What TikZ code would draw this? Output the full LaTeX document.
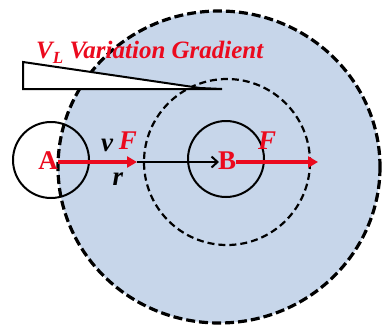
\documentclass[tikz,border=0pt]{standalone}
\usepackage{fontspec}
\setmainfont{Liberation Serif}[BoldItalicFont={Liberation Serif Bold Italic},BoldFont={Liberation Serif Bold}]
\usetikzlibrary{arrows.meta}
\definecolor{fieldblue}{RGB}{199,214,234}
\definecolor{fred}{RGB}{235,10,30}
\begin{document}
\begin{tikzpicture}[x=1pt,y=-1pt,
  lab/.style={inner sep=0pt,font=\fontsize{27}{27}\selectfont\bfseries},
  itlab/.style={inner sep=0pt,font=\fontsize{27}{27}\selectfont\bfseries\itshape},
  redarrow/.style={draw=fred,line width=3.5pt,-{Triangle[length=10pt,width=11pt]}},
  blackarrow/.style={draw=black,line width=2pt,-{Straight Barb[length=6pt,width=11pt,line width=2pt]}},
  ring/.style={draw=black,line width=2pt}]
\useasboundingbox (0,0) rectangle (382,327);
% outer field
\fill[fieldblue] (219,167) ellipse [x radius=161,y radius=156];
\draw[line width=3.2pt,dash pattern=on 9pt off 4pt] (219,167) ellipse [x radius=161,y radius=156];
% inner dashed circle
\draw[line width=2.2pt,dash pattern=on 7pt off 4pt] (227,162) circle [radius=83];
% particle circles
\draw[ring] (51,160) circle [radius=38];
\draw[ring] (226,159) circle [radius=38];
% gradient wedge
\draw[line width=2pt,fill=white,line join=miter] (23,62) -- (23,89) -- (222,89) -- (200,88) -- cycle;
\node[anchor=base west,inner sep=0pt,text=fred,font=\fontsize{25}{25}\selectfont\bfseries\itshape] (title) at (36,58) {V\raisebox{-5pt}{\fontsize{17}{17}\selectfont L} Variation Gradient};
% labels
\node[lab,text=fred] (A) at (48,161) {A};
\node[lab,text=fred] (B) at (227,161) {B};
\coordinate (mid) at (137,162);
\coordinate (Bend) at (219,162);
\coordinate (Fend) at (318,162);
\draw[redarrow] (A.east) ++(0,1) -- (mid);
\draw[blackarrow] (mid) -- (Bend);
\draw[redarrow] (B.east) ++(0,1) -- (Fend);
\node[itlab] (v) at (107,145) {v};
\node[itlab,text=fred] (F1) at (128,141) {F};
\node[itlab] (r) at (118,179) {r};
\node[itlab,text=fred] (F2) at (267,141) {F};
\end{tikzpicture}
\end{document}
